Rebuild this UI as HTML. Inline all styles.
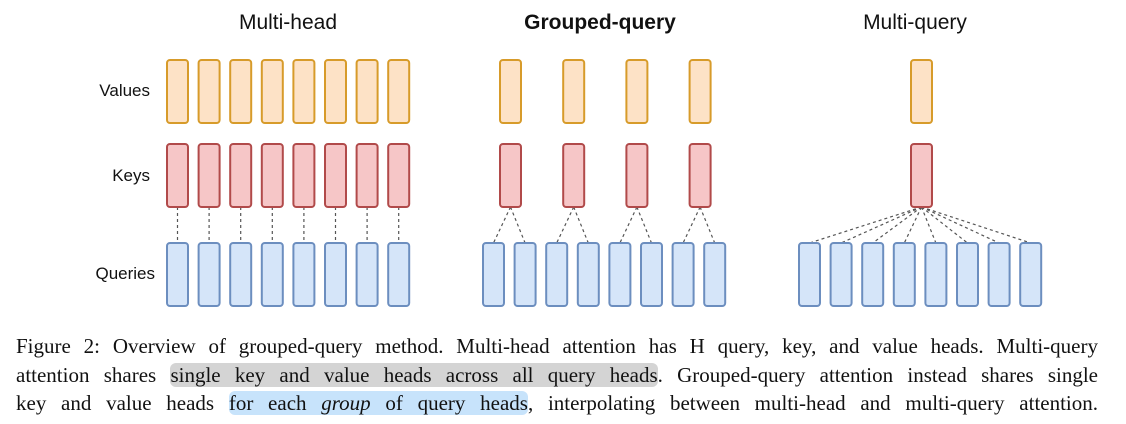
<!DOCTYPE html>
<html><head><meta charset="utf-8"><style>
body{margin:0;background:#fff;width:1126px;height:424px;overflow:hidden;position:relative}
svg{position:absolute;left:0;top:0}
.cap{position:absolute;left:16px;width:1082px;font-family:"Liberation Serif",serif;font-size:21px;color:#111;white-space:nowrap;text-align:justify;text-align-last:justify;line-height:28px}
.g{background:#d4d4d4;border-radius:6px}
.b{background:#c7e3fb;border-radius:6px}
</style></head><body>
<svg width="1126" height="320" xmlns="http://www.w3.org/2000/svg">
<g font-family="Liberation Sans, sans-serif" fill="#111">
<text x="288" y="29" font-size="21" text-anchor="middle">Multi-head</text>
<text x="600" y="29" font-size="21" text-anchor="middle" font-weight="bold">Grouped-query</text>
<text x="915" y="29" font-size="21" text-anchor="middle">Multi-query</text>
<text x="150" y="96" font-size="17" text-anchor="end">Values</text>
<text x="150" y="181" font-size="17" text-anchor="end">Keys</text>
<text x="155" y="279" font-size="17" text-anchor="end">Queries</text>
</g>
<g stroke="#555" stroke-width="1.2" stroke-dasharray="3,3" fill="none" id="lines"></g>
<g id="boxes"></g>
</svg>
<script>
var S="http://www.w3.org/2000/svg",B=document.getElementById('boxes'),L=document.getElementById('lines');
function box(x,y,t){var r=document.createElementNS(S,'rect');r.setAttribute('x',x);r.setAttribute('y',y);r.setAttribute('width',21);r.setAttribute('height',63);r.setAttribute('rx',3);r.setAttribute('stroke-width',2);
var c={v:['#fde2c6','#d79b2a'],k:['#f6c6c7','#b14a4a'],q:['#d5e5f9','#6c8ebf']}[t];r.setAttribute('fill',c[0]);r.setAttribute('stroke',c[1]);B.appendChild(r);}
function line(x1,y1,x2,y2){var l=document.createElementNS(S,'line');l.setAttribute('x1',x1);l.setAttribute('y1',y1);l.setAttribute('x2',x2);l.setAttribute('y2',y2);L.appendChild(l);}
var p=31.6,i,x;
for(i=0;i<8;i++){x=167+i*p;box(x,60,'v');box(x,144,'k');box(x,243,'q');line(x+10.5,207,x+10.5,243);}
for(i=0;i<8;i++){x=483+i*p;box(x,243,'q');}
for(i=0;i<4;i++){x=500+i*2*p;box(x,60,'v');box(x,144,'k');line(x+10.5,207,483+2*i*p+10.5,243);line(x+10.5,207,483+(2*i+1)*p+10.5,243);}
box(911,60,'v');box(911,144,'k');
for(i=0;i<8;i++){x=799+i*p;box(x,243,'q');line(921.5,207,x+10.5,243);}
</script>
<div class="cap" style="top:332px">Figure 2: Overview of grouped-query method. Multi-head attention has H query, key, and value heads. Multi-query</div>
<div class="cap" style="top:361px">attention shares <span class="g">single key and value heads across all query heads</span>. Grouped-query attention instead shares single</div>
<div class="cap" style="top:389px">key and value heads <span class="b">for each <i>group</i> of query heads</span>, interpolating between multi-head and multi-query attention.</div>
</body></html>
